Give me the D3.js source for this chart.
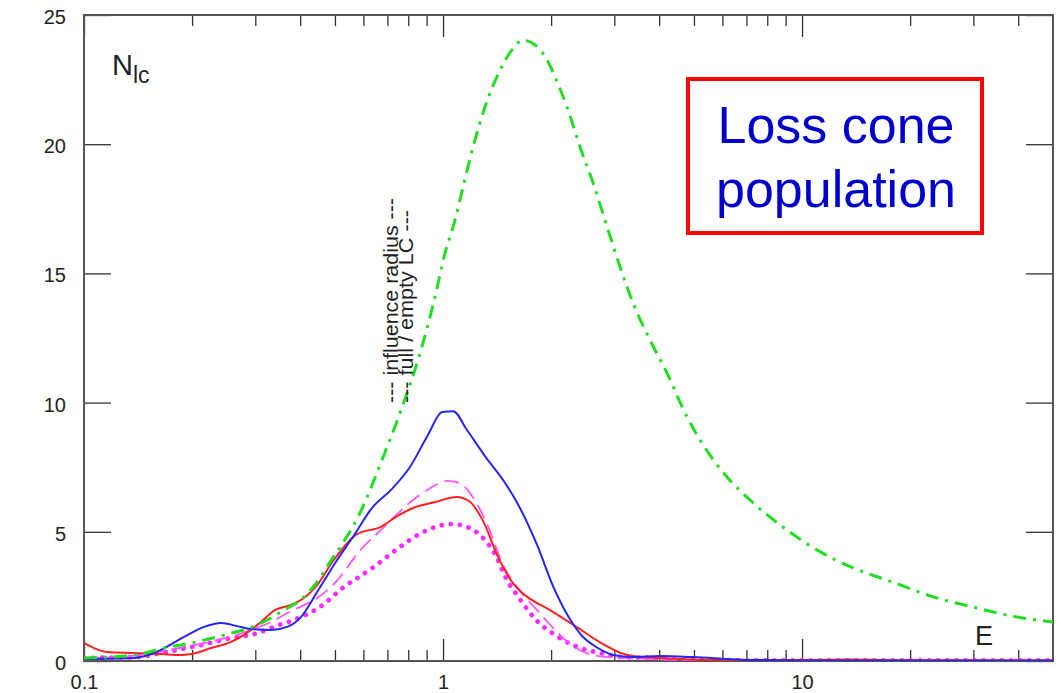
<!DOCTYPE html>
<html>
<head>
<meta charset="utf-8">
<script src="https://cdn.jsdelivr.net/npm/d3@7"></script>
<style>
  body { margin: 0; background: #fff; }
  svg { display: block; font-family: "Liberation Sans", Arial, sans-serif; }
  .tick text { font-size: 20px; fill: #222; }
  .tick line { stroke: #333; stroke-width: 1.3; }
</style>
</head>
<body>
<div id="chart"></div>
<script>
// loss cone population N_lc versus energy E, [E, N] pairs
const greenLC = [[0.1,0.12],[0.138,0.23],[0.167,0.5],[0.206,0.74],[0.245,1.0],[0.303,1.39],[0.361,1.97],
  [0.41,2.48],[0.446,3.06],[0.478,3.7],[0.587,5.73],[0.681,7.89],[0.759,9.6],[0.863,11.92],[0.95,14.09],
  [1.013,15.79],[1.067,16.8],[1.137,18.34],[1.212,19.89],[1.309,21.44],[1.442,22.87],[1.556,23.65],
  [1.671,24.03],[1.804,23.84],[1.95,23.26],[2.051,22.6],[2.215,21.44],[2.408,19.89],[2.618,18.5],
  [2.864,16.8],[3.113,15.25],[3.384,13.85],[3.772,12.42],[4.205,11.15],[4.783,9.44],[5.2,8.55],
  [6.18,7.12],[7.16,6.23],[9.08,5.07],[11.0,4.3],[13.9,3.6],[17.9,3.05],[23.2,2.48],[29.9,2.09],
  [39.7,1.7],[50,1.51]];

const blueLC = [[0.1,0.08],[0.138,0.12],[0.157,0.31],[0.19,0.93],[0.216,1.32],[0.241,1.47],[0.267,1.35],
  [0.292,1.24],[0.332,1.2],[0.368,1.32],[0.402,1.7],[0.446,2.67],[0.507,3.91],[0.561,4.8],[0.634,5.92],
  [0.716,6.62],[0.809,7.51],[0.908,8.75],[0.994,9.64],[1.067,9.67],[1.166,8.94],[1.309,7.93],[1.489,6.89],
  [1.638,5.92],[1.828,4.49],[2.025,2.9],[2.23,1.74],[2.455,0.93],[2.618,0.62],[2.79,0.39],[2.98,0.23],
  [3.38,0.15],[4.02,0.19],[4.97,0.15],[6.18,0.08],[7.03,0.04],[10,0.02],[50,0.02]];

const redLC = [[0.1,0.7],[0.1066,0.5],[0.116,0.35],[0.138,0.31],[0.164,0.27],[0.186,0.23],[0.199,0.27],
  [0.226,0.5],[0.257,0.74],[0.286,1.12],[0.311,1.51],[0.34,1.97],[0.377,2.17],[0.41,2.44],[0.446,2.94],
  [0.494,3.87],[0.576,4.91],[0.671,5.19],[0.745,5.61],[0.825,5.92],[0.95,6.15],[1.094,6.35],[1.181,6.19],
  [1.284,5.5],[1.432,3.95],[1.556,3.06],[1.703,2.52],[1.986,1.97],[2.377,1.28],[2.754,0.7],[3.13,0.31],
  [3.38,0.19],[4.02,0.12],[5.65,0.04],[10,0.03],[13.5,0.06],[18,0.03],[50,0.02]];

const dashedLC = [[0.1,0.12],[0.1236,0.15],[0.154,0.31],[0.19,0.54],[0.235,0.81],[0.292,1.2],[0.332,1.51],
  [0.377,1.93],[0.446,2.44],[0.497,2.98],[0.595,4.37],[0.681,5.15],[0.794,6.04],[0.914,6.66],[1.026,6.97],
  [1.109,6.89],[1.22,6.27],[1.334,5.22],[1.469,3.72],[1.638,2.71],[1.828,1.97],[2.05,1.2],[2.3,0.58],
  [2.618,0.23],[3.11,0.12],[3.7,0.08],[5,0.03],[50,0.02]];

const dottedLC = [[0.1,0.12],[0.138,0.15],[0.17,0.35],[0.212,0.62],[0.257,0.89],[0.297,1.04],[0.349,1.39],
  [0.402,1.7],[0.454,2.09],[0.526,2.83],[0.63,3.56],[0.745,4.33],[0.852,4.88],[0.968,5.22],[1.059,5.3],
  [1.166,5.19],[1.284,4.8],[1.405,4.06],[1.497,3.21],[1.628,2.44],[1.828,1.55],[2.05,1.01],[2.33,0.58],
  [2.74,0.31],[3.17,0.15],[3.85,0.12],[5,0.03],[50,0.02]];

const xLabels = [0.1, 1, 10];
const yLabels = [0, 5, 10, 15, 20, 25];

const width = 1061, height = 693;
const margin = {left: 84, right: 8, top: 15, bottom: 32};

let svg = d3.select("#chart").append("svg")
    .attr("width", width)
    .attr("height", height);

svg.append("rect").attr("width", width).attr("height", height).attr("fill", "#fff");

let x = d3.scaleLog()
    .domain([0.1, 50])
    .range([margin.left, width - margin.right]);

let y = d3.scaleLinear()
    .domain([0, 25])
    .range([height - margin.bottom, margin.top]);

// minor ticks 2..9 in every decade
let minorTicks = [];
[0.1, 1, 10].forEach(function (d) {
    for (let k = 2; k <= 9; k++) {
        let v = +(d * k).toPrecision(3);
        if (v < 50) minorTicks.push(v);
    }
});

// bottom & top ticks (inward)
svg.append("g")
    .attr("transform", `translate(0,${y(0)})`)
    .call(d3.axisBottom(x).tickValues(minorTicks).tickSize(-11).tickFormat(""));
svg.append("g")
    .attr("transform", `translate(0,${y(0)})`)
    .call(d3.axisBottom(x).tickValues(xLabels).tickSize(-22).tickPadding(14)
        .tickFormat(d3.format("~g")));
svg.append("g")
    .attr("transform", `translate(0,${y(25)})`)
    .call(d3.axisTop(x).tickValues(minorTicks).tickSize(-11).tickFormat(""));
svg.append("g")
    .attr("transform", `translate(0,${y(25)})`)
    .call(d3.axisTop(x).tickValues(xLabels).tickSize(-22).tickFormat(""));

// left & right ticks
svg.append("g")
    .attr("transform", `translate(${x(0.1)},0)`)
    .call(d3.axisLeft(y).tickValues(yLabels).tickSize(-27).tickPadding(18))
    .selectAll("text").attr("dy", "0.42em");
svg.append("g")
    .attr("transform", `translate(${x(50)},0)`)
    .call(d3.axisRight(y).tickValues(yLabels).tickSize(-27).tickFormat(""));

svg.selectAll(".domain").remove();

// frame
svg.append("rect")
    .attr("x", x(0.1)).attr("y", y(25))
    .attr("width", x(50) - x(0.1)).attr("height", y(0) - y(25))
    .attr("fill", "none").attr("stroke", "#555").attr("stroke-width", 2);

svg.append("clipPath").attr("id", "plotClip")
    .append("rect")
    .attr("x", x(0.1)).attr("y", y(25))
    .attr("width", x(50) - x(0.1)).attr("height", y(0) - y(25));

let line = d3.line()
    .x(d => x(d[0]))
    .y(d => y(d[1]))
    .curve(d3.curveMonotoneX);

let series = [
    {data: dottedLC, color: "#ff2cff", width: 4.8, dash: "0.1,9", cap: "round"},
    {data: dashedLC, color: "#ff55ff", width: 1.8, dash: "15,7", cap: "butt"},
    {data: redLC, color: "#ff2020", width: 2, dash: null, cap: "butt"},
    {data: blueLC, color: "#2626ee", width: 2, dash: null, cap: "butt"},
    {data: greenLC, color: "#22dd22", width: 3, dash: "13,7,3,7", cap: "butt"}
];

let g = svg.append("g").attr("clip-path", "url(#plotClip)");
g.selectAll(".curve")
    .data(series)
    .enter()
    .append("path")
    .attr("class", "curve")
    .attr("d", d => line(d.data))
    .attr("fill", "none")
    .attr("stroke", d => d.color)
    .attr("stroke-width", d => d.width)
    .attr("stroke-dasharray", d => d.dash)
    .attr("stroke-linecap", d => d.cap)
    .attr("stroke-linejoin", "round");

// axis names
let nlc = svg.append("text")
    .attr("x", 112).attr("y", 75)
    .attr("fill", "#222")
    .style("font-size", "29px");
nlc.append("tspan").text("N");
nlc.append("tspan").attr("dy", 8).style("font-size", "23px").text("lc");

svg.append("text")
    .attr("x", 975).attr("y", 645)
    .attr("fill", "#222")
    .style("font-size", "27px")
    .text("E");

// vertical markers text
svg.append("text")
    .attr("transform", "translate(398,403) rotate(-90)")
    .attr("fill", "#222")
    .attr("textLength", 205)
    .attr("lengthAdjust", "spacingAndGlyphs")
    .style("font-size", "21px")
    .text("--- influence radius ---");
svg.append("text")
    .attr("transform", "translate(413,403) rotate(-90)")
    .attr("fill", "#222")
    .attr("textLength", 193)
    .attr("lengthAdjust", "spacingAndGlyphs")
    .style("font-size", "21px")
    .text("--- full / empty LC ---");

// boxed title
svg.append("rect")
    .attr("x", 688).attr("y", 79)
    .attr("width", 294).attr("height", 154)
    .attr("fill", "#fff")
    .attr("stroke", "#ff0000")
    .attr("stroke-width", 4);

svg.selectAll(".boxText")
    .data(["Loss cone", "population"])
    .enter()
    .append("text")
    .attr("class", "boxText")
    .attr("x", 836)
    .attr("y", (d, i) => 143 + i * 64)
    .attr("text-anchor", "middle")
    .attr("fill", "#0000cc")
    .style("font-size", "52px")
    .text(d => d);
</script>
</body>
</html>
